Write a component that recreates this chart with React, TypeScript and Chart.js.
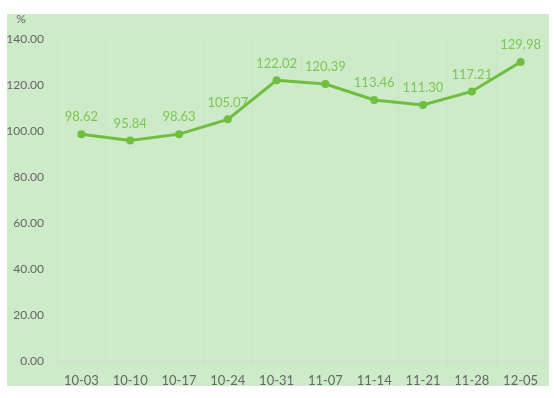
import React, { useEffect, useRef } from "react";
import { Chart, registerables } from "chart.js";

Chart.register(...registerables);

const categories = ["10-03", "10-10", "10-17", "10-24", "10-31", "11-07", "11-14", "11-21", "11-28", "12-05"];
const values = [98.62, 95.84, 98.63, 105.07, 122.02, 120.39, 113.46, 111.3, 117.21, 129.98];
const yMin = 0;
const yMax = 140;
const yStep = 20;
const unitLabel = "%";

const FONT = "Lato, 'Noto Sans', sans-serif";

const labelPlugin = {
  id: "pointLabels",
  afterDatasetsDraw(chart: any) {
    const ctx = chart.ctx;
    const meta = chart.getDatasetMeta(0);
    ctx.save();
    ctx.font = `13px ${FONT}`;
    ctx.fillStyle = "#7cc653";
    ctx.textAlign = "center";
    ctx.textBaseline = "middle";
    meta.data.forEach((pt: any, i: number) => {
      ctx.fillText(values[i].toFixed(2), pt.x, pt.y - 17);
    });
    ctx.fillStyle = "#666666";
    ctx.font = `12px ${FONT}`;
    ctx.fillText(unitLabel, 14, 5);
    ctx.restore();
  },
};

export default function App() {
  const ref = useRef<HTMLCanvasElement | null>(null);
  useEffect(() => {
    if (!ref.current) return;
    const chart = new Chart(ref.current, {
      type: "line",
      data: {
        labels: categories,
        datasets: [
          {
            data: values,
            borderColor: "#6fbe40",
            backgroundColor: "#6fbe40",
            borderWidth: 3,
            pointRadius: 4,
            pointHoverRadius: 4,
            pointBackgroundColor: "#6fbe40",
            pointBorderWidth: 0,
            tension: 0,
          },
        ],
      },
      options: {
        animation: false,
        responsive: false,
        maintainAspectRatio: false,
        layout: { padding: { top: 25, right: 1, left: 0, bottom: 0 } },
        plugins: { legend: { display: false }, tooltip: { enabled: false } },
        scales: {
          x: {
            offset: true,
            grid: {
              offset: true,
              color: "rgba(0,0,0,0.018)",
              tickColor: "#d3dccf",
              tickLength: 5,
            },
            border: { display: true, color: "#d3dccf" },
            ticks: {
              color: "#666666",
              font: { family: FONT, size: 13 },
              padding: 7,
              maxRotation: 0,
            },
            afterFit: (s: any) => {
              s.height = 25;
            },
          },
          y: {
            min: yMin,
            max: yMax,
            grid: { display: false },
            border: { display: false },
            ticks: {
              stepSize: yStep,
              color: "#666666",
              font: { family: FONT, size: 12 },
              padding: 5,
              callback: (v: any) => Number(v).toFixed(2),
            },
            afterFit: (s: any) => {
              s.width = 50;
            },
          },
        },
      },
      plugins: [labelPlugin],
    });
    return () => chart.destroy();
  }, []);
  return (
    <div
      style={{
        position: "absolute",
        left: 7,
        top: 14,
        width: 542,
        height: 372,
        background: "#ceebc9",
      }}
    >
      <canvas ref={ref} width={542} height={372} style={{ display: "block" }} />
    </div>
  );
}
